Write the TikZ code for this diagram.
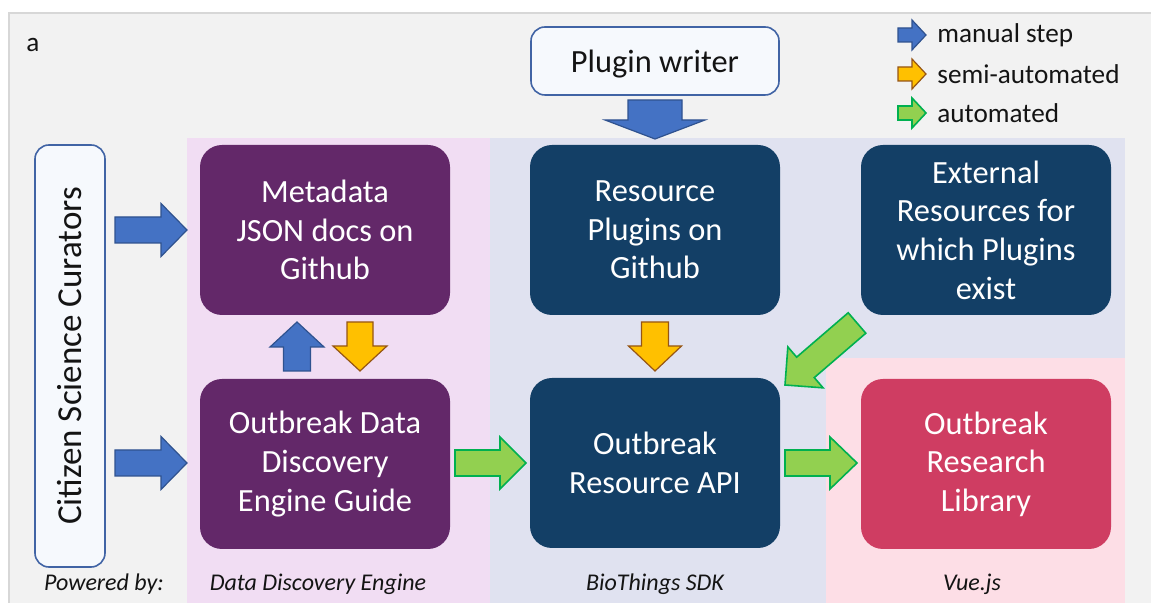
\documentclass[tikz,border=0pt]{standalone}
\usepackage{fontspec}
\setmainfont{Carlito}
\usetikzlibrary{calc}
\definecolor{framebg}{RGB}{242,242,242}
\definecolor{frameline}{RGB}{215,215,215}
\definecolor{purpleband}{RGB}{241,221,243}
\definecolor{blueband}{RGB}{224,226,240}
\definecolor{pinkband}{RGB}{253,222,230}
\definecolor{purplebox}{RGB}{99,40,105}
\definecolor{navybox}{RGB}{19,63,102}
\definecolor{redbox}{RGB}{207,61,98}
\definecolor{wfill}{RGB}{246,249,253}
\definecolor{wline}{RGB}{65,100,165}
\definecolor{bluefill}{RGB}{68,114,196}
\definecolor{blueline}{RGB}{47,82,143}
\definecolor{orangefill}{RGB}{255,192,0}
\definecolor{orangeline}{RGB}{150,85,20}
\definecolor{greenfill}{RGB}{146,208,80}
\definecolor{greenline}{RGB}{0,176,80}
\definecolor{txt}{RGB}{20,20,20}
% block arrow: style, tail, tip, shaft half-width, head half-width, head length
\newcommand{\blockarr}[6]{%
  \coordinate (hb) at ($(#3)!#6!(#2)$);
  \draw[#1] ($(#2)!#4!90:(#3)$) -- ($(hb)!#4!90:(#3)$) -- ($(hb)!#5!90:(#3)$) -- (#3)
    -- ($(hb)!#5!-90:(#3)$) -- ($(hb)!#4!-90:(#3)$) -- ($(#2)!#4!-90:(#3)$) -- cycle;}
\begin{document}
\begin{tikzpicture}[x=0.5pt,y=-0.5pt,
  manualarr/.style={draw=blueline, fill=bluefill, line width=0.6pt, line join=miter},
  semiarr/.style={draw=orangeline, fill=orangefill, line width=0.6pt, line join=miter},
  autoarr/.style={draw=greenline, fill=greenfill, line width=0.8pt, line join=miter},
  box/.style={rounded corners=11pt, minimum width=125pt, minimum height=85pt, text=white,
    align=center, inner sep=0pt, font=\fontsize{16.2}{19.3}\selectfont},
  wbox/.style={draw=wline, fill=wfill, line width=0.8pt, rounded corners=7pt, text=txt,
    align=center, inner sep=0pt},
  lgtext/.style={anchor=west, text=txt, inner sep=0pt, font=\fontsize{13.6}{16}\selectfont},
  powered/.style={text=txt, inner sep=0pt, font=\fontsize{12}{14}\selectfont\itshape}
]
\useasboundingbox (0,0) rectangle (1151,603);
% frame
\fill[framebg] (9,13) rectangle (1151,603);
\draw[frameline, line width=0.8pt] (9,603) -- (9,13) -- (1151,13);
% bands
\fill[purpleband] (187,138) rectangle (490,603);
\fill[blueband] (490,138) rectangle (1125,603);
\fill[pinkband] (826,358) rectangle (1125,603);

\node (lbl) [text=txt, font=\fontsize{13.6}{16}\selectfont] at (33,45) {a};

% nodes
\node (cit) [wbox, rotate=90, minimum width=211pt, minimum height=35pt,
  font=\fontsize{17.5}{20}\selectfont] at (70,356) {Citizen Science Curators};
\node (writer) [wbox, minimum width=124pt, minimum height=34pt, text height=12pt, text depth=0pt,
  font=\fontsize{16.2}{19.3}\selectfont] at (655,61) {Plugin writer};
\node (meta) [box, fill=purplebox] at (325,230) {Metadata\\JSON docs on\\Github};
\node (guide) [box, fill=purplebox] at (325,464) {Outbreak Data\\Discovery\\Engine Guide};
\node (plug) [box, fill=navybox] at (655,230) {Resource\\Plugins on\\Github};
\node (ext) [box, fill=navybox] at (986,230) {External\\Resources for\\which Plugins\\exist};
\node (api) [box, fill=navybox] at (655,463) {Outbreak\\Resource API};
\node (lib) [box, fill=redbox] at (986,464) {Outbreak\\Research\\Library};

% arrow end points
\coordinate (a1t) at (115,230); \coordinate (a1h) at (187,230);
\coordinate (a2t) at (115,463); \coordinate (a2h) at (187,463);
\coordinate (a3t) at (655,100); \coordinate (a3h) at (655,139);
\coordinate (a4t) at (297,371); \coordinate (a4h) at (297,322);
\coordinate (a5t) at (360,322); \coordinate (a5h) at (360,371);
\coordinate (a6t) at (655,322); \coordinate (a6h) at (655,371);
\coordinate (a7t) at (857,323); \coordinate (a7h) at (785,385);
\coordinate (a8t) at (455,463); \coordinate (a8h) at (526,463);
\coordinate (a9t) at (785,463); \coordinate (a9h) at (857,463);

\blockarr{manualarr}{a1t}{a1h}{6.5pt}{13.25pt}{13pt}
\blockarr{manualarr}{a2t}{a2h}{6.5pt}{13.25pt}{13pt}
\blockarr{manualarr}{a3t}{a3h}{13.5pt}{25pt}{9.5pt}
\blockarr{manualarr}{a4t}{a4h}{6.75pt}{13.5pt}{12.5pt}
\blockarr{semiarr}{a5t}{a5h}{6.5pt}{13.5pt}{12.5pt}
\blockarr{semiarr}{a6t}{a6h}{6.75pt}{13.25pt}{12.5pt}
\blockarr{autoarr}{a7t}{a7h}{6.75pt}{13.5pt}{13.5pt}
\blockarr{autoarr}{a8t}{a8h}{6.5pt}{13pt}{13pt}
\blockarr{autoarr}{a9t}{a9h}{6.5pt}{13pt}{13.5pt}

% legend
\coordinate (l1t) at (898,35); \coordinate (l1h) at (926,35);
\coordinate (l2t) at (898,74); \coordinate (l2h) at (926,74);
\coordinate (l3t) at (898,113); \coordinate (l3h) at (926,113);
\blockarr{manualarr}{l1t}{l1h}{3.5pt}{7.5pt}{7pt}
\blockarr{semiarr}{l2t}{l2h}{3.5pt}{7.5pt}{7pt}
\blockarr{autoarr}{l3t}{l3h}{3.5pt}{7.5pt}{7pt}
\node (lg1) [lgtext] at (937,35) {manual step};
\node (lg2) [lgtext] at (937,74) {semi-automated};
\node (lg3) [lgtext] at (937,113) {automated};

% powered by
\node (pw) [powered] at (104,584) {Powered by:};
\node (pdde) [powered] at (318,584) {Data Discovery Engine};
\node (pbt) [powered] at (655,584) {BioThings SDK};
\node (pvue) [powered] at (972,584) {Vue.js};
\end{tikzpicture}
\end{document}
